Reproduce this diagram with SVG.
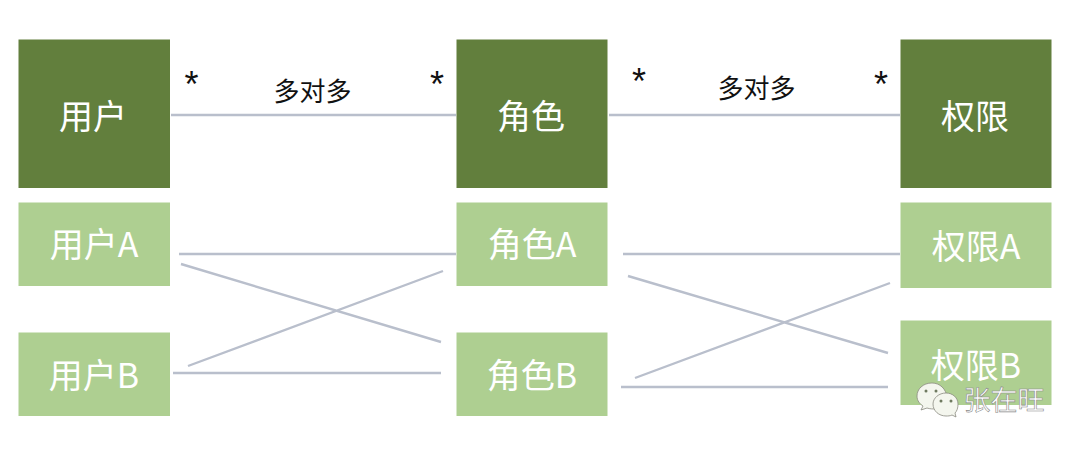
<svg xmlns="http://www.w3.org/2000/svg" width="1080" height="449" viewBox="0 0 1080 449">
<style>
text{font-family:"Noto Sans CJK SC","Liberation Sans",sans-serif;text-anchor:middle}
.d{fill:#627f3d}.l{fill:#aecf91}
.dt{fill:#fff;font-size:34px}.lt{fill:#fff;font-size:34px}
.c{stroke:#b9bfcc;stroke-width:2.400;fill:none}
.m{fill:#111;font-size:26px}.s{fill:#111;font-size:36px;font-family:"Liberation Sans",sans-serif}
.b{fill:#f4f6ee;stroke:#8a8a80;stroke-width:.8}.e{fill:#6f7a60}
</style>
<rect width="1080" height="449" fill="#fff"/>
<g id="connectors">
<path class="c" d="M171 115H456M609 115H900M179 254H456M181 264L441 342M188 366L443 271M173 373H441M623 254H900M628 276L888 353M635 378L890 283M621 387H888"/>
</g>
<g id="user"><rect class="d" x="18.500" y="39.500" width="151.500" height="148.500"/><text class="dt" x="93" y="129">用户</text></g>
<g id="role"><rect class="d" x="456.500" y="39.500" width="151" height="148.500"/><text class="dt" x="531" y="129">角色</text></g>
<g id="perm"><rect class="d" x="900.500" y="39.500" width="151" height="148.500"/><text class="dt" x="975" y="129">权限</text></g>
<g id="userA"><rect class="l" x="18.500" y="202.500" width="151.500" height="83.500"/><text class="lt" x="94" y="257">用户A</text></g>
<g id="userB"><rect class="l" x="18.500" y="332.500" width="151.500" height="83.500"/><text class="lt" x="94" y="388">用户B</text></g>
<g id="roleA"><rect class="l" x="456.500" y="202.500" width="151" height="83.500"/><text class="lt" x="532" y="257">角色A</text></g>
<g id="roleB"><rect class="l" x="456.500" y="332.500" width="151" height="83.500"/><text class="lt" x="532" y="388">角色B</text></g>
<g id="permA"><rect class="l" x="900.500" y="202.500" width="151" height="85.500"/><text class="lt" x="976" y="259">权限A</text></g>
<g id="permB"><rect class="l" x="900.500" y="320.500" width="151" height="84.500"/><text class="lt" x="976" y="378">权限B</text></g>
<g id="labels">
<text class="s" x="191.500" y="97">*</text><text class="s" x="437" y="97">*</text><text class="s" x="639" y="94">*</text><text class="s" x="881" y="97">*</text>
<text class="m" x="312.500" y="101">多对多</text><text class="m" x="756.500" y="98">多对多</text>
</g>
<g id="watermark">
<path class="b" d="M932 383C923 383 917 389 917 396C917 401 920 404 923 406L921 410L927 408C930 409 933 409 936 409L947 397C946 389 940 383 932 383Z"/>
<path class="b" d="M946 393C939 393 933 398 933 404C933 411 939 416 946 416C948 416 950 416 952 415L956 417L955 413C957 411 958 408 958 404C958 398 953 393 946 393Z"/>
<circle class="e" cx="926" cy="391" r="1.500"/><circle class="e" cx="936" cy="391" r="1.500"/><circle class="e" cx="941" cy="401" r="1.500"/><circle class="e" cx="951" cy="401" r="1.500"/>
<text x="1004" y="410" font-size="27" fill="#fff" stroke="#8a8a8a" stroke-width=".6">张在旺</text>
</g>
</svg>
